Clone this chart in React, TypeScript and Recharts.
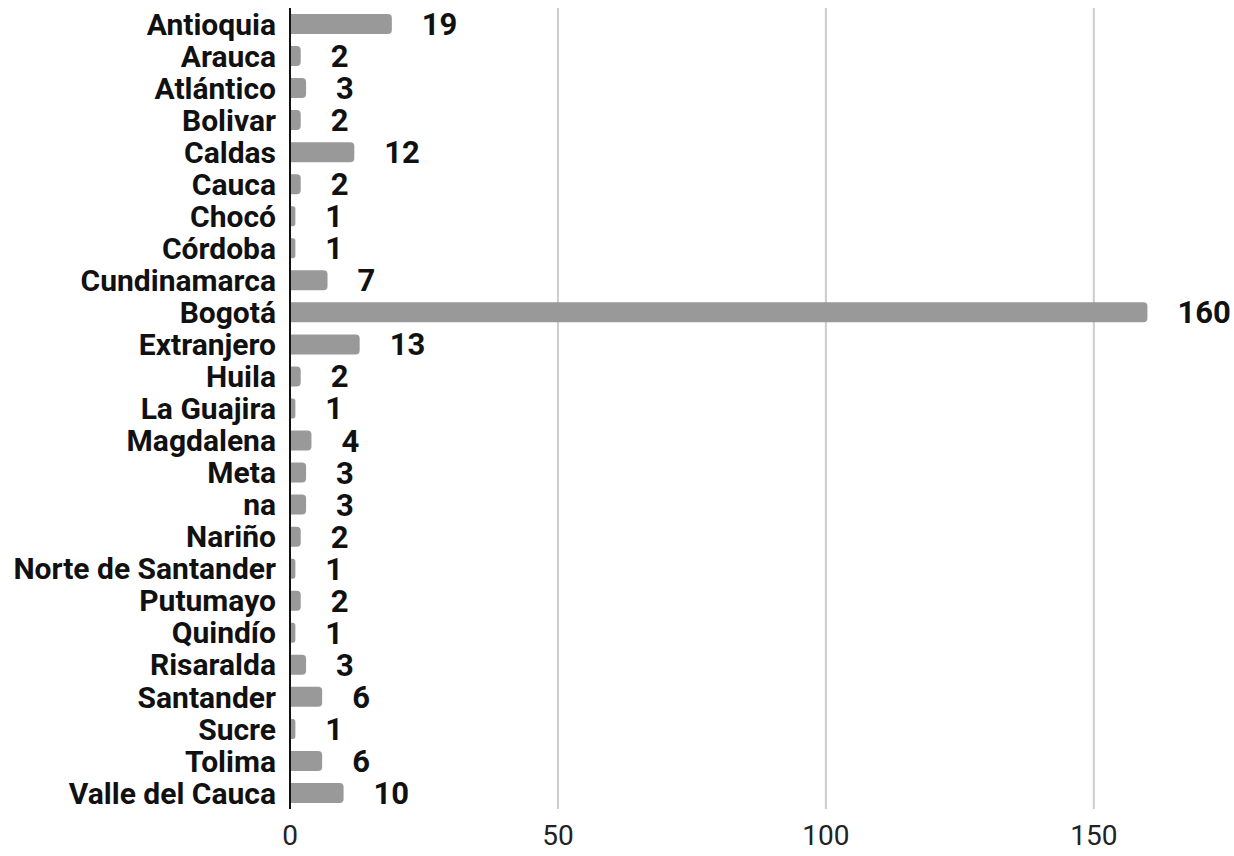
import { BarChart, Bar, XAxis, YAxis, CartesianGrid, LabelList } from "recharts";

const departamentos = [
  "Antioquia", "Arauca", "Atlántico", "Bolivar", "Caldas", "Cauca", "Chocó", "Córdoba",
  "Cundinamarca", "Bogotá", "Extranjero", "Huila", "La Guajira", "Magdalena", "Meta", "na",
  "Nariño", "Norte de Santander", "Putumayo", "Quindío", "Risaralda", "Santander", "Sucre",
  "Tolima", "Valle del Cauca",
];
const cantidades = [19, 2, 3, 2, 12, 2, 1, 1, 7, 160, 13, 2, 1, 4, 3, 3, 2, 1, 2, 1, 3, 6, 1, 6, 10];
const xTicks = [0, 50, 100, 150];
const gridValues = [50, 100, 150];

const data = departamentos.map((name, i) => ({ name, value: cantidades[i] }));

const FONT = "Roboto, 'Noto Sans', sans-serif";

export default function App() {
  return (
    <div style={{ position: "absolute", left: 0, top: 0 }}>
      <BarChart
        width={1234}
        height={856}
        data={data}
        layout="vertical"
        margin={{ top: 8, right: 33, bottom: 0, left: 0 }}
        barCategoryGap={6}
      >
        <CartesianGrid horizontal={false} verticalValues={gridValues} stroke="#cccccc" strokeWidth={2} />
        <XAxis
          type="number"
          domain={[0, 170]}
          ticks={xTicks}
          axisLine={false}
          tickLine={false}
          height={47}
          tickMargin={10}
          tick={{ fontSize: 28, fill: "#222", fontFamily: FONT }}
        />
        <YAxis
          type="category"
          dataKey="name"
          width={290}
          interval={0}
          tickLine={false}
          tickSize={0}
          tickMargin={14}
          axisLine={{ stroke: "#111", strokeWidth: 2 }}
          tick={{ fontSize: 30, fontWeight: 700, fill: "#111", fontFamily: FONT }}
        />
        <Bar dataKey="value" fill="#999999" barSize={20} radius={[0, 4, 4, 0]} isAnimationActive={false}>
          <LabelList
            dataKey="value"
            position="right"
            offset={30}
            style={{ fontSize: 31, fontWeight: 700, fill: "#111", fontFamily: FONT }}
          />
        </Bar>
      </BarChart>
    </div>
  );
}
